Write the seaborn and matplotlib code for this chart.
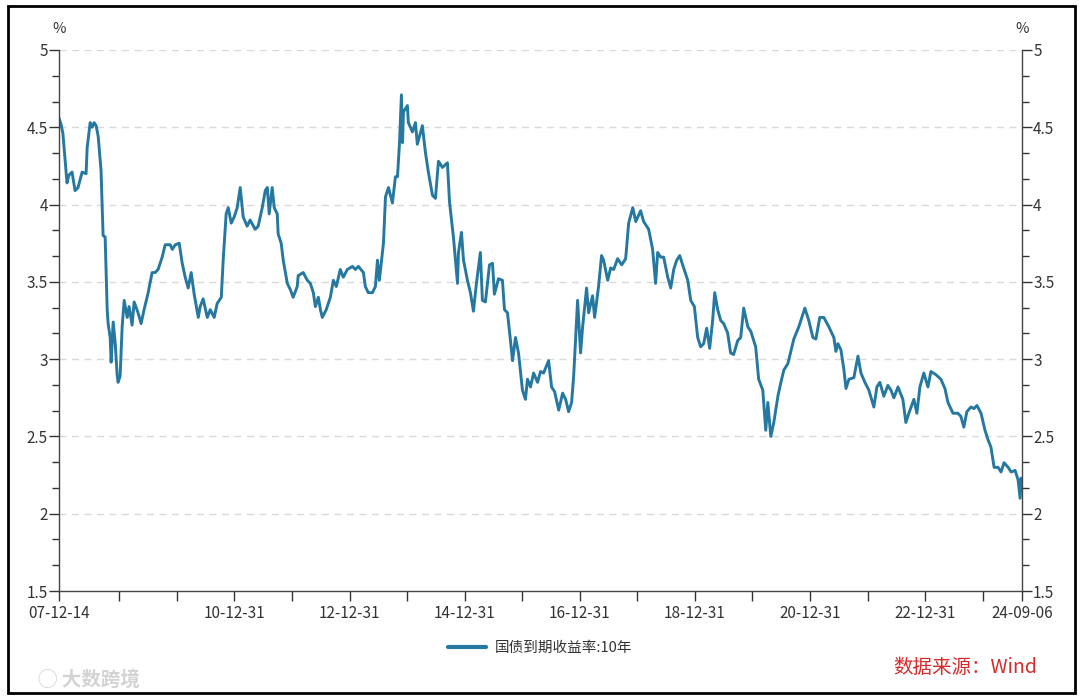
import pandas as pd
import matplotlib
matplotlib.use("Agg")
import matplotlib.pyplot as plt
import matplotlib.dates as mdates
from matplotlib.patches import Rectangle
from matplotlib.ticker import FixedLocator, MultipleLocator, FuncFormatter
import seaborn as sns

# 10Y China government bond yield (%)
dates = [
    "2007-12-14", "2007-12-27", "2008-01-08", "2008-01-21", "2008-02-03", "2008-02-15",
    "2008-03-06", "2008-03-25", "2008-04-13", "2008-05-09", "2008-06-03", "2008-06-10",
    "2008-06-29", "2008-07-12", "2008-07-24", "2008-08-06", "2008-08-19", "2008-09-06",
    "2008-09-19", "2008-10-02", "2008-10-15", "2008-10-21", "2008-11-03", "2008-11-09",
    "2008-11-22", "2008-12-05", "2008-12-17", "2008-12-23",
    "2009-01-05", "2009-01-18", "2009-01-31", "2009-02-19", "2009-03-03", "2009-03-22",
    "2009-04-04", "2009-04-29", "2009-05-18", "2009-06-06", "2009-07-02", "2009-07-27",
    "2009-08-15", "2009-09-03", "2009-09-29", "2009-10-18", "2009-11-19", "2009-12-02",
    "2009-12-21",
    "2010-01-15", "2010-02-03", "2010-02-22", "2010-03-13", "2010-04-01", "2010-04-20",
    "2010-05-16", "2010-05-28", "2010-06-16", "2010-07-12", "2010-07-31", "2010-08-25",
    "2010-09-13", "2010-10-09", "2010-10-21", "2010-11-09", "2010-11-22", "2010-12-11",
    "2010-12-30",
    "2011-01-18", "2011-02-06", "2011-02-25", "2011-03-22", "2011-04-10", "2011-05-12",
    "2011-05-31", "2011-06-26", "2011-07-15", "2011-07-28", "2011-08-09", "2011-08-28",
    "2011-09-10", "2011-09-29", "2011-10-05", "2011-10-24", "2011-11-06", "2011-12-02",
    "2011-12-21",
    "2012-01-08", "2012-02-03", "2012-02-09", "2012-03-12", "2012-04-07", "2012-04-26",
    "2012-05-15", "2012-05-28", "2012-06-16", "2012-06-29", "2012-07-11", "2012-08-05",
    "2012-08-31", "2012-09-19", "2012-10-08", "2012-11-02", "2012-11-21", "2012-12-17",
    "2013-01-18", "2013-02-06", "2013-02-25", "2013-03-29", "2013-04-10", "2013-04-29",
    "2013-05-25", "2013-06-13", "2013-06-26", "2013-07-08", "2013-08-03", "2013-08-16",
    "2013-09-04", "2013-09-29", "2013-10-18", "2013-10-31", "2013-11-13", "2013-11-25",
    "2013-12-02", "2013-12-08",
    "2014-01-02", "2014-01-08", "2014-02-03", "2014-02-22", "2014-03-06", "2014-04-07",
    "2014-04-26", "2014-05-15", "2014-06-10", "2014-06-29", "2014-07-18", "2014-08-12",
    "2014-09-13", "2014-09-26", "2014-10-21", "2014-11-16", "2014-11-22", "2014-12-11",
    "2014-12-24",
    "2015-01-18", "2015-02-06", "2015-02-25", "2015-03-16", "2015-04-10", "2015-04-23",
    "2015-05-12", "2015-06-07", "2015-06-26", "2015-07-08", "2015-08-03", "2015-08-28",
    "2015-09-10", "2015-09-29", "2015-10-18", "2015-10-31", "2015-11-19", "2015-12-08",
    "2016-01-02", "2016-01-21", "2016-02-03", "2016-02-22", "2016-03-13", "2016-04-07",
    "2016-04-26", "2016-05-15", "2016-06-16", "2016-07-05", "2016-07-24", "2016-08-19",
    "2016-09-13", "2016-10-02", "2016-10-21", "2016-11-09", "2016-11-22", "2016-12-17",
    "2017-01-05", "2017-01-18", "2017-02-12", "2017-02-25", "2017-03-22", "2017-04-04",
    "2017-04-29", "2017-05-18", "2017-05-31", "2017-06-26", "2017-07-15", "2017-08-03",
    "2017-08-28", "2017-09-23", "2017-10-18", "2017-11-06", "2017-12-02", "2017-12-21",
    "2018-01-21", "2018-02-09", "2018-03-13", "2018-04-07", "2018-04-26", "2018-05-09",
    "2018-05-28", "2018-06-16", "2018-07-12", "2018-07-31", "2018-08-19", "2018-09-07",
    "2018-09-26", "2018-10-21", "2018-11-16", "2018-12-05", "2018-12-28",
    "2019-01-18", "2019-02-06", "2019-02-25", "2019-03-16", "2019-04-04", "2019-04-23",
    "2019-05-06", "2019-05-25", "2019-06-13", "2019-07-02", "2019-07-27", "2019-08-15",
    "2019-09-03", "2019-09-29", "2019-10-18", "2019-11-06", "2019-12-02", "2019-12-21",
    "2020-01-21", "2020-02-09", "2020-03-06", "2020-03-25", "2020-04-07", "2020-04-26",
    "2020-05-15", "2020-06-10", "2020-06-29", "2020-07-18", "2020-08-12", "2020-08-31",
    "2020-09-19", "2020-10-21", "2020-11-28", "2020-12-23",
    "2021-01-18", "2021-02-06", "2021-03-03", "2021-03-28", "2021-04-29", "2021-05-31",
    "2021-06-13", "2021-06-26", "2021-07-15", "2021-08-03", "2021-08-16", "2021-09-04",
    "2021-10-05", "2021-10-31", "2021-11-19", "2021-12-14",
    "2022-01-08", "2022-02-09", "2022-02-28", "2022-03-19", "2022-04-13", "2022-05-09",
    "2022-05-28", "2022-06-16", "2022-07-12", "2022-08-12", "2022-08-31", "2022-09-19",
    "2022-10-21", "2022-11-09", "2022-11-28", "2022-12-23",
    "2023-01-18", "2023-02-06", "2023-03-09", "2023-04-10", "2023-05-06", "2023-05-25",
    "2023-06-26", "2023-07-27", "2023-08-15", "2023-09-03", "2023-09-22", "2023-10-18",
    "2023-11-06", "2023-11-25", "2023-12-21",
    "2024-01-15", "2024-02-03", "2024-02-22", "2024-03-13", "2024-04-07", "2024-04-26",
    "2024-05-15", "2024-06-10", "2024-06-29", "2024-07-24", "2024-08-12", "2024-08-25",
    "2024-08-31", "2024-09-06",
]

yields = [
    4.56, 4.52, 4.46, 4.30, 4.14, 4.19,
    4.21, 4.09, 4.11, 4.21, 4.20, 4.37,
    4.53, 4.50, 4.53, 4.51, 4.44, 4.22,
    3.80, 3.79, 3.32, 3.23, 3.14, 2.98,
    3.24, 3.10, 2.90, 2.85,
    2.89, 3.21, 3.38, 3.27, 3.34, 3.22,
    3.37, 3.30, 3.23, 3.32, 3.43, 3.56,
    3.56, 3.58, 3.66, 3.74, 3.74, 3.71,
    3.74,
    3.75, 3.62, 3.53, 3.46, 3.56, 3.42,
    3.27, 3.34, 3.39, 3.27, 3.32, 3.27,
    3.36, 3.40, 3.64, 3.94, 3.98, 3.88,
    3.92,
    3.98, 4.11, 3.92, 3.86, 3.90, 3.84,
    3.86, 3.98, 4.09, 4.11, 3.94, 4.11,
    3.98, 3.94, 3.81, 3.75, 3.64, 3.49,
    3.45,
    3.40, 3.47, 3.54, 3.56, 3.51, 3.49,
    3.43, 3.34, 3.40, 3.32, 3.27, 3.32,
    3.40, 3.51, 3.47, 3.58, 3.53, 3.58,
    3.60, 3.58, 3.60, 3.56, 3.47, 3.43,
    3.43, 3.47, 3.64, 3.51, 3.75, 4.05,
    4.11, 4.01, 4.18, 4.18, 4.40, 4.71,
    4.40, 4.60,
    4.64, 4.53, 4.47, 4.53, 4.39, 4.51,
    4.34, 4.21, 4.06, 4.04, 4.28, 4.24,
    4.27, 4.02, 3.79, 3.49, 3.69, 3.82,
    3.64,
    3.51, 3.43, 3.31, 3.49, 3.69, 3.38,
    3.37, 3.61, 3.62, 3.42, 3.52, 3.51,
    3.32, 3.30, 3.12, 2.99, 3.14, 3.04,
    2.80, 2.74, 2.87, 2.82, 2.91, 2.85,
    2.92, 2.91, 2.99, 2.82, 2.79, 2.67,
    2.78, 2.74, 2.66, 2.72, 2.89, 3.38,
    3.04, 3.21, 3.46, 3.30, 3.41, 3.27,
    3.47, 3.67, 3.64, 3.51, 3.59, 3.58,
    3.65, 3.61, 3.65, 3.88, 3.98, 3.89,
    3.96, 3.89, 3.84, 3.71, 3.49, 3.69,
    3.66, 3.66, 3.53, 3.46, 3.58, 3.64,
    3.67, 3.59, 3.51, 3.38, 3.34,
    3.14, 3.08, 3.10, 3.20, 3.07, 3.25,
    3.43, 3.32, 3.25, 3.23, 3.17, 3.04,
    3.03, 3.12, 3.14, 3.33, 3.21, 3.18,
    3.08, 2.87, 2.80, 2.54, 2.72, 2.50,
    2.59, 2.76, 2.85, 2.93, 2.97, 3.05,
    3.13, 3.21, 3.33, 3.25,
    3.14, 3.13, 3.27, 3.27, 3.21, 3.14,
    3.05, 3.10, 3.06, 2.93, 2.81, 2.87,
    2.88, 3.02, 2.91, 2.85,
    2.80, 2.69, 2.82, 2.85, 2.76, 2.83,
    2.80, 2.75, 2.82, 2.74, 2.59, 2.65,
    2.74, 2.65, 2.82, 2.91,
    2.82, 2.92, 2.90, 2.87, 2.81, 2.72,
    2.65, 2.65, 2.63, 2.56, 2.66, 2.69,
    2.68, 2.70, 2.65,
    2.54, 2.48, 2.43, 2.30, 2.30, 2.27,
    2.33, 2.30, 2.27, 2.28, 2.22, 2.10,
    2.23, 2.15,
]

series_name = "国债到期收益率:10年"
x_tick_dates = ["2007-12-14"] + [f"{y}-12-31" for y in range(2008, 2024)] + ["2024-09-06"]
x_tick_labels = ["07-12-14", "", "", "10-12-31", "", "12-12-31", "", "14-12-31", "",
                 "16-12-31", "", "18-12-31", "", "20-12-31", "", "22-12-31", "", "24-09-06"]

df = pd.DataFrame({"date": pd.to_datetime(dates), "value": yields})

sns.set_style("white")
plt.rcParams["font.family"] = ["Noto Sans CJK SC", "DejaVu Sans"]
plt.rcParams["axes.unicode_minus"] = False

fig = plt.figure(figsize=(10.8, 6.99), dpi=100)
ax = fig.add_axes([0.0546, 0.1545, 0.8917, 0.774])

line_color = "#25789f"
sns.lineplot(data=df, x="date", y="value", ax=ax, color=line_color,
             linewidth=2.1, label=series_name)

ax.set_xlim(pd.Timestamp("2007-12-14"), pd.Timestamp("2024-09-06"))
ax.set_ylim(1.5, 5)
ax.set_xlabel("")
ax.set_ylabel("")

text_color = "#333333"
ax.xaxis.set_major_locator(FixedLocator(mdates.date2num(pd.to_datetime(x_tick_dates))))
ax.set_xticklabels(x_tick_labels)
ax.yaxis.set_major_locator(MultipleLocator(0.5))
ax.yaxis.set_minor_locator(MultipleLocator(0.5 / 3))
ax.yaxis.set_major_formatter(FuncFormatter(lambda v, p: f"{v:g}"))

ax.tick_params(axis="x", which="major", direction="out", length=7, width=1,
               colors=text_color, labelsize=11, pad=3, bottom=True)
ax.tick_params(axis="y", which="both", direction="out", left=True, right=True,
               labelleft=True, labelright=True, colors=text_color, width=1)
ax.tick_params(axis="y", which="major", length=7, labelsize=11, pad=1)
ax.tick_params(axis="y", which="minor", length=5)

for side in ["left", "right", "bottom"]:
    ax.spines[side].set_visible(True)
    ax.spines[side].set_color("#444444")
    ax.spines[side].set_linewidth(1)
ax.spines["top"].set_visible(False)

ax.grid(False)
for v in [2, 2.5, 3, 3.5, 4, 4.5, 5]:
    ax.axhline(v, color="#d9d9d9", linewidth=1, linestyle=(0, (5, 4)), zorder=0)

ax.text(0, 1.025, "%", transform=ax.transAxes, ha="center", va="bottom",
        fontsize=10.5, color=text_color)
ax.text(1, 1.025, "%", transform=ax.transAxes, ha="center", va="bottom",
        fontsize=10.5, color=text_color)

leg = ax.legend(loc="center", bbox_to_anchor=(0.5, -0.105), frameon=False,
                fontsize=10.5, handlelength=2.6, handletextpad=0.6)
for t in leg.get_texts():
    t.set_color(text_color)
for h in leg.get_lines():
    h.set_linewidth(3)

fig.text(0.9605, 0.045, "数据来源：Wind", ha="right", va="center",
         fontsize=14, color="#d42a2a")
fig.text(0.035, 0.028, "◯ 大数跨境", ha="left", va="center", fontsize=14,
         color="#c8c8c8", fontweight="bold", alpha=0.8)

fig.patches.append(Rectangle((0.0075, 0.0085), 0.9875, 0.9835, transform=fig.transFigure,
                             fill=False, edgecolor="black", linewidth=2))

fig.savefig("out.png", dpi=100, facecolor="white")
